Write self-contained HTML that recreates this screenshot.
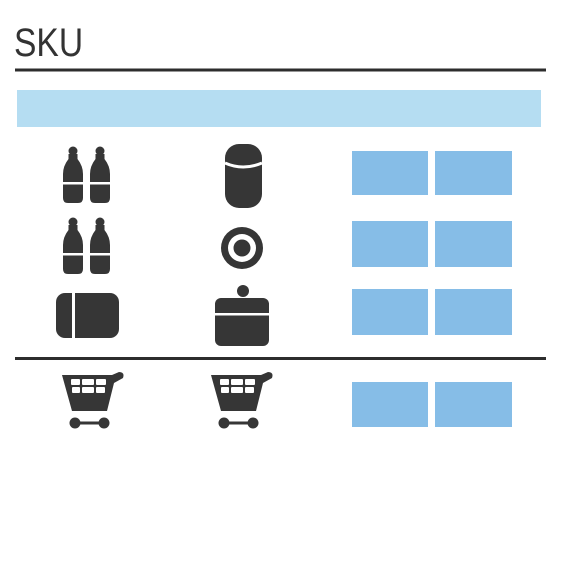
<!DOCTYPE html>
<html><head><meta charset="utf-8"><style>
html,body{margin:0;padding:0;background:#fff;width:562px;height:581px;overflow:hidden}
#t{position:absolute;left:14px;top:21px;font:40px "Liberation Sans",sans-serif;color:#333;transform:scaleX(0.84);transform-origin:left top}
</style></head><body>
<div id="t">SKU</div>
<svg width="562" height="581" style="position:absolute;left:0;top:0">
<defs>
<g id="bottle">
<circle cx="10" cy="5" r="4.5"/>
<path d="M5.5 8 H14.5 V13 Q20 20 20 28 V52 Q20 57 15 57 H5 Q0 57 0 52 V28 Q0 20 5.5 13 Z"/>
<rect x="-1" y="36" width="22" height="2.5" fill="#fff"/>
</g>
<g id="cart">
<path d="M0 0 H50 L57 -3 Q63 -3 61 3 L52 8 L45 36 H10 Z"/>
<g fill="#fff"><rect x="9" y="4" width="9" height="6" rx="1"/><rect x="20" y="4" width="12" height="6" rx="1"/><rect x="34" y="4" width="10" height="6" rx="1"/>
<rect x="10" y="12" width="8" height="6" rx="1"/><rect x="20" y="12" width="12" height="6" rx="1"/><rect x="34" y="12" width="9" height="6" rx="1"/></g>
<circle cx="13" cy="48" r="5.5"/><circle cx="42" cy="48" r="5.5"/><rect x="13" y="46.5" width="29" height="3"/>
</g>
</defs>
<rect x="15" y="68.5" width="531" height="3" fill="#2d2d2d"/>
<rect x="17" y="90" width="524" height="37" fill="#b5ddf2"/>
<g fill="#363636">
<use href="#bottle" x="63" y="146"/>
<use href="#bottle" x="90" y="146"/>
<use href="#bottle" x="63" y="217"/>
<use href="#bottle" x="90" y="217"/>
<g>
<rect x="225" y="144" width="37" height="64" rx="14"/>
<path d="M225 163 Q243 171 262 163" stroke="#fff" stroke-width="3" fill="none"/>
</g>
<g>
<circle cx="242" cy="248" r="21"/><circle cx="242" cy="248" r="14" fill="#fff"/><circle cx="242" cy="248" r="8.5"/>
</g>
<g>
<rect x="56" y="293" width="63" height="45" rx="9"/>
<rect x="72" y="292" width="3" height="48" fill="#fff"/>
</g>
<g>
<circle cx="243" cy="291" r="6"/>
<rect x="215" y="298" width="54" height="48" rx="6"/>
<rect x="214" y="313" width="56" height="2.5" fill="#fff"/>
</g>
<use href="#cart" x="62" y="375"/>
<use href="#cart" x="211" y="375"/>
</g>
<rect x="15" y="357" width="531" height="3" fill="#2d2d2d"/>
<g fill="#86bde7">
<rect x="352" y="151" width="76" height="44"/>
<rect x="435" y="151" width="77" height="44"/>
<rect x="352" y="221" width="76" height="46"/>
<rect x="435" y="221" width="77" height="46"/>
<rect x="352" y="289" width="76" height="46"/>
<rect x="435" y="289" width="77" height="46"/>
<rect x="352" y="382" width="76" height="45"/>
<rect x="435" y="382" width="77" height="45"/>
</g>
</svg>
</body></html>
